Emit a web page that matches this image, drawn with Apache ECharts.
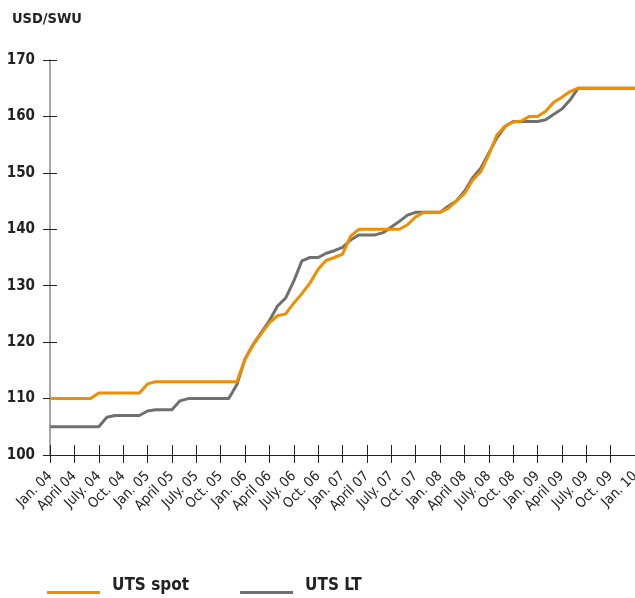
<!DOCTYPE html>
<html>
<head>
<meta charset="utf-8">
<script src="https://cdn.jsdelivr.net/npm/echarts@6.0.0/dist/echarts.min.js"></script>
<style>
  html, body { margin: 0; padding: 0; background: #fff; }
  #chart { width: 635px; height: 598px; }
</style>
</head>
<body>
<div id="chart"></div>
<script>
// month names as printed on the axis, years 04..10
const monthNames = ['Jan.', 'Feb.', 'March', 'April', 'May', 'June', 'July.', 'Aug.', 'Sept.', 'Oct.', 'Nov.', 'Dec.'];
const years = ['04', '05', '06', '07', '08', '09'];
const lastMonth = 'Jan. 10';

// UTS spot price, USD/SWU, monthly Jan 04 .. Jan 10
const utsSpot = [
  110, 110, 110, 110, 110, 110, 111, 111, 111, 111, 111, 111,
  112.6, 113, 113, 113, 113, 113, 113, 113, 113, 113, 113, 113,
  117, 119.5, 121.5, 123.4, 124.7, 125, 126.9, 128.6, 130.5, 132.9, 134.5, 135,
  135.6, 138.8, 140, 140, 140, 140, 140, 140, 140.8, 142.2, 143, 143,
  143, 143.7, 145, 146.3, 148.7, 150.2, 153.2, 156.7, 158.3, 159, 159.2, 160,
  160, 160.9, 162.5, 163.4, 164.4, 165, 165, 165, 165, 165, 165, 165,
  165
];

// UTS long-term price, USD/SWU
const utsLT = [
  105, 105, 105, 105, 105, 105, 105, 106.7, 107, 107, 107, 107,
  107.8, 108, 108, 108, 109.6, 110, 110, 110, 110, 110, 110, 112.5,
  117, 119.6, 121.7, 123.8, 126.4, 127.8, 130.8, 134.4, 135, 135, 135.75, 136.2,
  136.8, 138.1, 139, 139, 139, 139.4, 140.4, 141.4, 142.5, 143, 143, 143,
  143, 144.1, 145, 146.7, 149.1, 150.8, 153.5, 156.2, 158.2, 159.1, 159.1, 159.1,
  159.1, 159.4, 160.4, 161.3, 162.9, 165, 165, 165, 165, 165, 165, 165,
  165
];

const months = [];
years.forEach(function (y) {
  monthNames.forEach(function (m) { months.push(m + ' ' + y); });
});
months.push(lastMonth);

const font = "'Liberation Sans Narrow', 'DejaVu Sans Condensed', 'Liberation Sans', sans-serif";
// legend line sits below the text middle, like the printed key
const keyIcon = 'path://M0,0L0,0M0,14L53,14L53,17L0,17Z';

const chart = echarts.init(document.getElementById('chart'));
chart.setOption({
  animation: false,
  title: {
    text: 'USD/SWU',
    left: 7,
    top: 7,
    textStyle: { fontFamily: font, fontSize: 14.5, fontWeight: 'bold', color: '#222' }
  },
  legend: {
    data: ['UTS spot', 'UTS LT'],
    left: 42,
    top: 572,
    icon: keyIcon,
    itemWidth: 53,
    itemHeight: 17,
    itemGap: 51,
    textStyle: { fontFamily: font, fontSize: 17, fontWeight: 'bold', color: '#222', padding: [0, 0, 0, 7] }
  },
  grid: {
    left: 50,
    right: 0,
    top: 60,
    bottom: 143,
    containLabel: false,
    outerBoundsMode: 'none'
  },
  xAxis: [
    {
      type: 'category',
      data: months,
      boundaryGap: false,
      position: 'bottom',
      axisLine: { lineStyle: { color: '#222', width: 1 } },
      axisTick: { interval: 2, length: 8, lineStyle: { color: '#222' } },
      axisLabel: {
        interval: 2,
        rotate: 45,
        margin: 19,
        fontFamily: font,
        fontSize: 14,
        color: '#222'
      },
      splitLine: { show: false }
    },
    {
      type: 'category',
      data: months,
      boundaryGap: false,
      position: 'bottom',
      axisLine: { show: false },
      axisTick: { inside: true, interval: 2, length: 10, lineStyle: { color: '#222' } },
      axisLabel: { show: false },
      splitLine: { show: false }
    }
  ],
  yAxis: [
    {
      type: 'value',
      min: 100,
      max: 170,
      interval: 10,
      position: 'left',
      axisLine: { show: true, lineStyle: { color: '#888', width: 1.5 } },
      axisTick: { show: true, length: 7, lineStyle: { color: '#222' } },
      axisLabel: { margin: 15, fontFamily: font, fontSize: 15, fontWeight: 'bold', color: '#222' },
      splitLine: { show: false }
    },
    {
      type: 'value',
      min: 100,
      max: 170,
      interval: 10,
      position: 'left',
      axisLine: { show: false },
      axisTick: { show: true, inside: true, length: 7, lineStyle: { color: '#222' } },
      axisLabel: { show: false },
      splitLine: { show: false }
    }
  ],
  series: [
    {
      name: 'UTS LT',
      type: 'line',
      data: utsLT,
      showSymbol: false,
      color: '#707070',
      lineStyle: { width: 3, color: '#707070' },
      z: 2
    },
    {
      name: 'UTS spot',
      type: 'line',
      data: utsSpot,
      showSymbol: false,
      color: '#EE8E00',
      lineStyle: { width: 3, color: '#EE8E00' },
      z: 3
    }
  ]
});
</script>
</body>
</html>
